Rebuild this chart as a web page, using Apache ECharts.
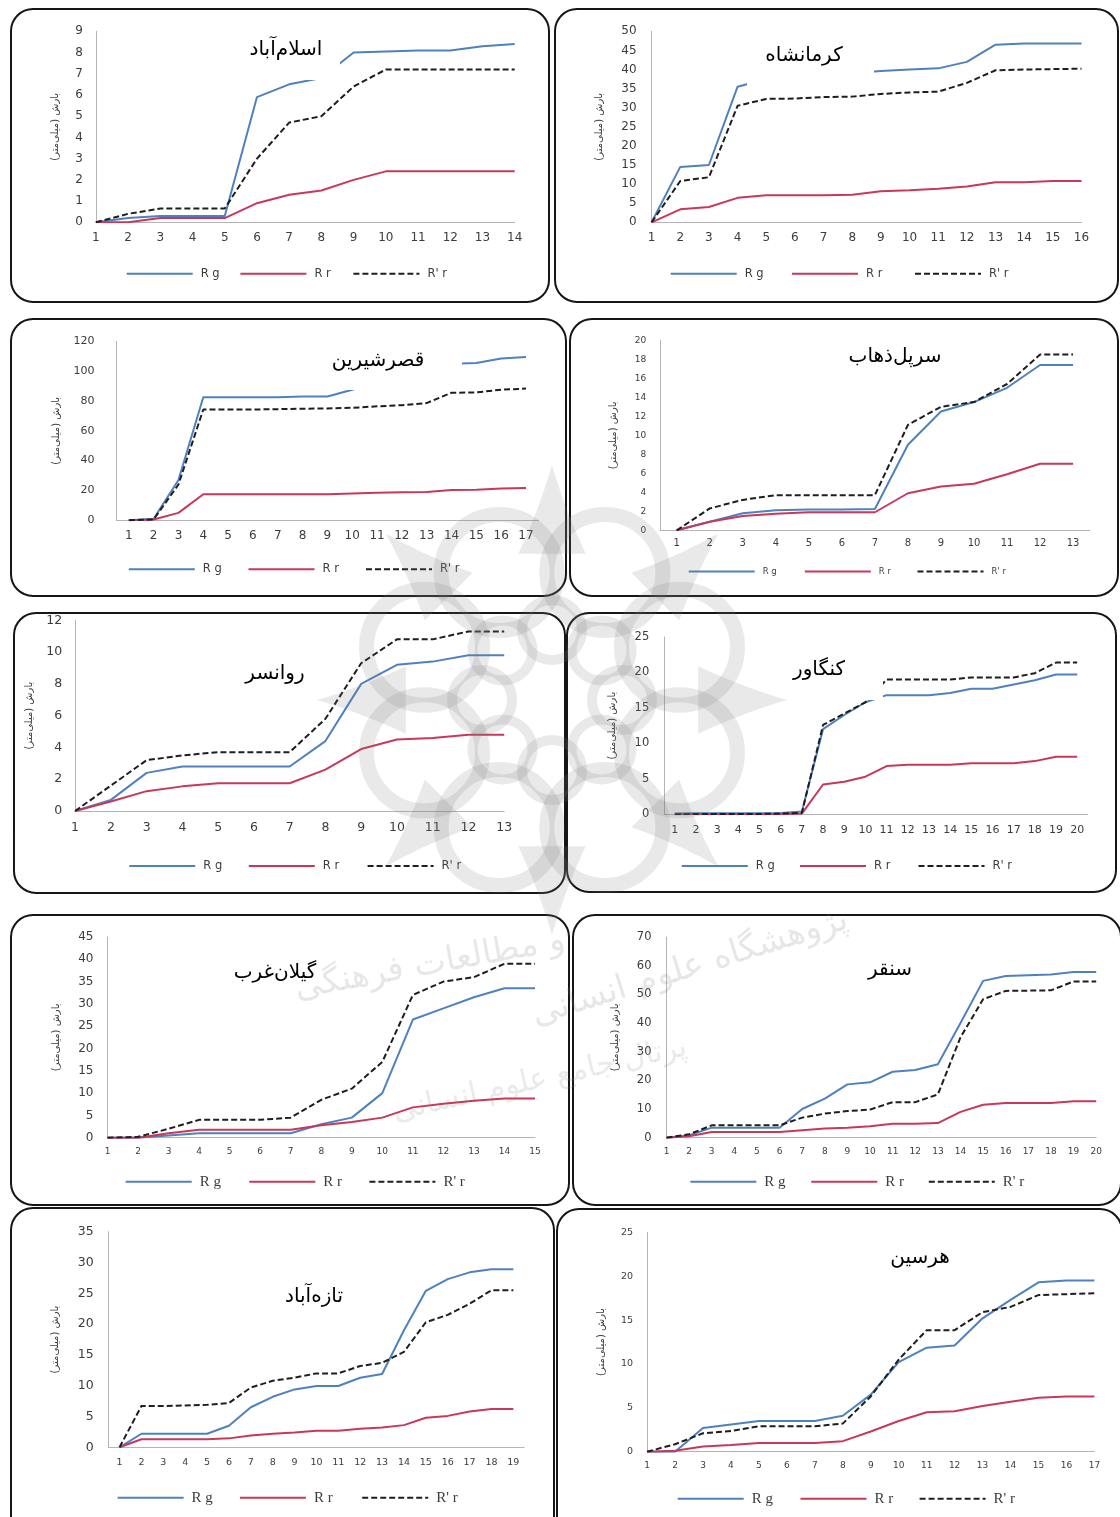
<!DOCTYPE html>
<html>
<head>
<meta charset="utf-8">
<script src="https://cdn.jsdelivr.net/npm/echarts@6/dist/echarts.min.js"></script>
<style>
  html, body { margin: 0; padding: 0; background: #ffffff; }
  #chart { width: 1120px; height: 1517px; }
</style>
</head>
<body>
<div id="chart"></div>
<script>
// Cumulative rainfall (mm) per time step at ten stations:
// Rg = gauge rainfall, Rr = radar rainfall, R'r = corrected radar rainfall.
const seriesNames = ['R g', 'R r', "R' r"];
const yAxisTitle = 'بارش (میلی‌متر)';

const islamabadSteps = ['1','2','3','4','5','6','7','8','9','10','11','12','13','14'];
const islamabadRg = [0, 0.2, 0.3, 0.3, 0.3, 5.9, 6.5, 6.8, 8.0, 8.05, 8.1, 8.1, 8.3, 8.4];
const islamabadRr = [0, 0, 0.2, 0.2, 0.2, 0.9, 1.3, 1.5, 2.0, 2.4, 2.4, 2.4, 2.4, 2.4];
const islamabadRc = [0, 0.4, 0.65, 0.65, 0.65, 3.0, 4.7, 5.0, 6.4, 7.2, 7.2, 7.2, 7.2, 7.2];

const kermanshahSteps = ['1','2','3','4','5','6','7','8','9','10','11','12','13','14','15','16'];
const kermanshahRg = [0, 14.5, 15, 35.5, 37.5, 38, 38.5, 39, 39.6, 40, 40.3, 42, 46.5, 46.8, 46.8, 46.8];
const kermanshahRr = [0, 3.4, 4, 6.4, 7.1, 7.1, 7.1, 7.2, 8.1, 8.4, 8.8, 9.4, 10.5, 10.5, 10.8, 10.8];
const kermanshahRc = [0, 10.8, 11.8, 30.5, 32.3, 32.4, 32.8, 32.9, 33.6, 34, 34.2, 36.5, 39.8, 40, 40.1, 40.2];

const qasrSteps = ['1','2','3','4','5','6','7','8','9','10','11','12','13','14','15','16','17'];
const qasrRg = [0, 1, 27, 82.5, 82.5, 82.5, 82.5, 83, 83, 87.5, 92, 97, 101, 105, 105.5, 108.5, 109.5];
const qasrRr = [0, 0.5, 5, 17.5, 17.5, 17.5, 17.5, 17.5, 17.5, 18, 18.5, 18.8, 19, 20.3, 20.5, 21.3, 21.6];
const qasrRc = [0, 0.5, 24, 74.3, 74.3, 74.3, 74.5, 74.8, 75, 75.4, 76.4, 77.2, 78.6, 85.5, 85.7, 87.6, 88.3];

const sarpolSteps = ['1','2','3','4','5','6','7','8','9','10','11','12','13'];
const sarpolRg = [0, 0.9, 1.8, 2.1, 2.2, 2.2, 2.25, 9, 12.5, 13.5, 15, 17.4, 17.4];
const sarpolRr = [0, 0.9, 1.5, 1.75, 1.9, 1.9, 1.9, 3.9, 4.6, 4.9, 5.9, 7.0, 7.0];
const sarpolRc = [0, 2.3, 3.2, 3.7, 3.7, 3.7, 3.7, 11.1, 13, 13.5, 15.4, 18.5, 18.5];

const ravansarSteps = ['1','2','3','4','5','6','7','8','9','10','11','12','13'];
const ravansarRg = [0, 0.7, 2.4, 2.8, 2.8, 2.8, 2.8, 4.4, 8.0, 9.2, 9.4, 9.8, 9.8];
const ravansarRr = [0, 0.6, 1.25, 1.55, 1.75, 1.75, 1.75, 2.6, 3.9, 4.5, 4.6, 4.8, 4.8];
const ravansarRc = [0, 1.6, 3.2, 3.5, 3.7, 3.7, 3.7, 5.8, 9.3, 10.8, 10.8, 11.3, 11.3];

const kangavarSteps = ['1','2','3','4','5','6','7','8','9','10','11','12','13','14','15','16','17','18','19','20'];
const kangavarRg = [0.1, 0.15, 0.15, 0.15, 0.15, 0.2, 0.4, 12, 14, 15.8, 16.8, 16.8, 16.8, 17.1, 17.7, 17.7, 18.3, 18.9, 19.7, 19.7];
const kangavarRr = [0, 0, 0, 0, 0, 0, 0.1, 4.2, 4.6, 5.3, 6.8, 7.0, 7.0, 7.0, 7.2, 7.2, 7.2, 7.5, 8.1, 8.1];
const kangavarRc = [0, 0.05, 0.05, 0.05, 0.05, 0.1, 0.2, 12.6, 14.2, 15.8, 19, 19, 19, 19, 19.3, 19.3, 19.3, 19.9, 21.4, 21.4];

const gilanSteps = ['1','2','3','4','5','6','7','8','9','10','11','12','13','14','15'];
const gilanRg = [0, 0, 0.5, 1, 1, 1, 1, 3, 4.5, 10, 26.5, 29, 31.5, 33.5, 33.5];
const gilanRr = [0, 0, 1, 1.8, 1.8, 1.8, 1.8, 2.8, 3.5, 4.5, 6.8, 7.6, 8.3, 8.8, 8.8];
const gilanRc = [0, 0.2, 2, 4, 4, 4, 4.5, 8.5, 11, 17, 32, 35, 36, 39, 39];

const sonqorSteps = ['1','2','3','4','5','6','7','8','9','10','11','12','13','14','15','16','17','18','19','20'];
const sonqorRg = [0, 0.8, 3.5, 3.5, 3.5, 3.5, 10, 13.6, 18.6, 19.3, 23, 23.6, 25.6, 40, 54.7, 56.4, 56.7, 56.9, 57.8, 57.8];
const sonqorRr = [0, 0.5, 2, 2, 2, 2, 2.6, 3.2, 3.5, 4, 4.9, 4.9, 5.1, 9, 11.5, 12.1, 12.1, 12.1, 12.7, 12.7];
const sonqorRc = [0, 1.2, 4.3, 4.3, 4.3, 4.3, 7, 8.4, 9.3, 9.8, 12.4, 12.4, 15.1, 35, 48.3, 51.2, 51.3, 51.4, 54.5, 54.5];

const tazeabadSteps = ['1','2','3','4','5','6','7','8','9','10','11','12','13','14','15','16','17','18','19'];
const tazeabadRg = [0, 2.2, 2.2, 2.2, 2.2, 3.5, 6.5, 8.2, 9.4, 9.95, 9.95, 11.3, 11.9, 19, 25.4, 27.3, 28.4, 28.9, 28.9];
const tazeabadRr = [0, 1.3, 1.3, 1.3, 1.3, 1.45, 1.9, 2.2, 2.4, 2.7, 2.7, 3.0, 3.2, 3.6, 4.8, 5.1, 5.8, 6.2, 6.2];
const tazeabadRc = [0, 6.7, 6.7, 6.8, 6.9, 7.2, 9.7, 10.8, 11.3, 12, 12, 13.2, 13.7, 15.5, 20.3, 21.5, 23.3, 25.5, 25.5];

const harsinSteps = ['1','2','3','4','5','6','7','8','9','10','11','12','13','14','15','16','17'];
const harsinRg = [0, 0, 2.7, 3.1, 3.5, 3.5, 3.5, 4.1, 6.5, 10.2, 11.85, 12.1, 15.2, 17.3, 19.3, 19.5, 19.5];
const harsinRr = [0, 0.1, 0.6, 0.76, 1.0, 1.0, 1.0, 1.2, 2.3, 3.5, 4.5, 4.6, 5.2, 5.7, 6.15, 6.3, 6.3];
const harsinRc = [0, 0.85, 2.1, 2.35, 2.9, 2.9, 2.9, 3.2, 6.3, 10.5, 13.85, 13.85, 15.9, 16.5, 17.85, 17.95, 18.05];

// station name, steps, series, y-axis range
const stations = [
  { title: 'اسلام‌آباد', steps: islamabadSteps, data: [islamabadRg, islamabadRr, islamabadRc], yMax: 9, yStep: 1 },
  { title: 'کرمانشاه', steps: kermanshahSteps, data: [kermanshahRg, kermanshahRr, kermanshahRc], yMax: 50, yStep: 5 },
  { title: 'قصرشیرین', steps: qasrSteps, data: [qasrRg, qasrRr, qasrRc], yMax: 120, yStep: 20 },
  { title: 'سرپل‌ذهاب', steps: sarpolSteps, data: [sarpolRg, sarpolRr, sarpolRc], yMax: 20, yStep: 2 },
  { title: 'روانسر', steps: ravansarSteps, data: [ravansarRg, ravansarRr, ravansarRc], yMax: 12, yStep: 2 },
  { title: 'کنگاور', steps: kangavarSteps, data: [kangavarRg, kangavarRr, kangavarRc], yMax: 25, yStep: 5 },
  { title: 'گیلان‌غرب', steps: gilanSteps, data: [gilanRg, gilanRr, gilanRc], yMax: 45, yStep: 5 },
  { title: 'سنقر', steps: sonqorSteps, data: [sonqorRg, sonqorRr, sonqorRc], yMax: 70, yStep: 10 },
  { title: 'تازه‌آباد', steps: tazeabadSteps, data: [tazeabadRg, tazeabadRr, tazeabadRc], yMax: 35, yStep: 5 },
  { title: 'هرسین', steps: harsinSteps, data: [harsinRg, harsinRr, harsinRc], yMax: 25, yStep: 5 }
];

// Page layout of each framed panel (pixels)
const SANS = "'DejaVu Sans', sans-serif";
const SERIF = "'Liberation Serif', 'DejaVu Serif', serif";
const layout = [
  { frame: [11, 9, 538, 293], grid: [95.9, 31.3, 418.8, 191], gap: false, yFont: 12, xFont: 12, xMargin: 10, yMargin: 13, nameGap: 35.7,
    titleAt: [286, 50], mask: [245, 36, 340, 80], legend: [125.7, 239.4, 352.4], legendY: 274.7, legendFont: SANS, legendSize: 11.5 },
  { frame: [555, 9, 563, 293], grid: [651.6, 31.3, 429.9, 191], gap: false, yFont: 12, xFont: 12, xMargin: 10, yMargin: 15, nameGap: 47.6,
    titleAt: [804, 56], mask: [747, 38, 874, 85], legend: [669.7, 791, 914], legendY: 274.7, legendFont: SANS, legendSize: 11.5 },
  { frame: [11, 319, 555, 277], grid: [116.4, 341.3, 422, 179], gap: true, yFont: 11, xFont: 12, xMargin: 10, yMargin: 22, nameGap: 55,
    titleAt: [378, 361], mask: [325, 345, 462, 390], legend: [127.8, 247.5, 365], legendY: 570.3, legendFont: SANS, legendSize: 11.5 },
  { frame: [570, 319, 548, 277], grid: [660.2, 340.3, 429.4, 190], gap: true, yFont: 9, xFont: 10, xMargin: 8, yMargin: 14, nameGap: 41.4,
    titleAt: [895, 357], mask: null, legend: [687.7, 803.8, 916.5], legendY: 573, legendFont: SANS, legendSize: 8.5 },
  { frame: [14, 613, 551, 280], grid: [75.1, 620.3, 429.1, 190.7], gap: false, yFont: 12.5, xFont: 12.5, xMargin: 10, yMargin: 13, nameGap: 40.4,
    titleAt: [275, 674], mask: null, legend: [128.3, 247.8, 366.6], legendY: 867, legendFont: SANS, legendSize: 11.5 },
  { frame: [567, 613, 549, 279], grid: [664.2, 637, 423.6, 177.3], gap: true, yFont: 11.5, xFont: 11, xMargin: 10, yMargin: 15, nameGap: 47.2,
    titleAt: [819, 670], mask: [785, 652, 883, 700], legend: [680.8, 799, 917.5], legendY: 867, legendFont: SANS, legendSize: 11.5 },
  { frame: [11, 915, 558, 290], grid: [107.5, 937, 427.5, 200.7], gap: false, yFont: 12, xFont: 9, xMargin: 9, yMargin: 14, nameGap: 45.9,
    titleAt: [275, 973], mask: null, legend: [124.7, 248.3, 368.4], legendY: 1181.3, legendFont: SERIF, legendSize: 15 },
  { frame: [573, 915, 548, 290], grid: [666.5, 937, 429.7, 200.7], gap: false, yFont: 11.5, xFont: 9, xMargin: 9, yMargin: 15, nameGap: 45.9,
    titleAt: [890, 970], mask: null, legend: [689.3, 810.3, 927.8], legendY: 1181.3, legendFont: SERIF, legendSize: 15 },
  { frame: [11, 1208, 543, 330], grid: [108.6, 1231.7, 415.7, 215.6], gap: true, yFont: 12.5, xFont: 9.5, xMargin: 10, yMargin: 15, nameGap: 48.2,
    titleAt: [314, 1297], mask: null, legend: [116.6, 238.9, 361.2], legendY: 1497.3, legendFont: SERIF, legendSize: 15 },
  { frame: [557, 1209, 565, 330], grid: [647.1, 1232.3, 447.3, 219.4], gap: false, yFont: 9.5, xFont: 9, xMargin: 9.5, yMargin: 14, nameGap: 41.1,
    titleAt: [920, 1258], mask: null, legend: [676.7, 799.5, 918.6], legendY: 1498.3, legendFont: SERIF, legendSize: 15 }
];

const lineColors = ['#4f81bd', '#c8385a', '#1e1e1e'];
const lineDash = ['solid', 'solid', [6, 3]];
const axisGray = '#b4b4b4';
const labelGray = '#3c3c3c';

const grids = [], xAxes = [], yAxes = [], series = [], legends = [], graphics = [];

stations.forEach((st, i) => {
  const L = layout[i];
  grids.push({ left: L.grid[0], top: L.grid[1], width: L.grid[2], height: L.grid[3], containLabel: false });
  xAxes.push({
    type: 'category', gridIndex: i, data: st.steps, boundaryGap: L.gap,
    axisLine: { show: true, lineStyle: { color: axisGray, width: 1 } },
    axisTick: { show: false },
    axisLabel: { interval: 0, fontSize: L.xFont, color: labelGray, margin: L.xMargin, fontFamily: SANS },
    splitLine: { show: false }
  });
  yAxes.push({
    type: 'value', gridIndex: i, min: 0, max: st.yMax, interval: st.yStep,
    axisLine: { show: true, lineStyle: { color: axisGray, width: 1 } },
    axisTick: { show: false },
    splitLine: { show: false },
    axisLabel: { fontSize: L.yFont, color: labelGray, margin: L.yMargin, fontFamily: SANS },
    name: yAxisTitle, nameLocation: 'middle', nameGap: L.nameGap,
    nameTextStyle: { fontSize: 10, color: labelGray, fontFamily: SANS }
  });
  st.data.forEach((vals, k) => {
    series.push({
      type: 'line', name: seriesNames[k], xAxisIndex: i, yAxisIndex: i,
      data: vals, symbol: 'none', smooth: false, color: lineColors[k],
      lineStyle: { color: lineColors[k], width: 2, type: lineDash[k] },
      z: 2, animation: false
    });
    legends.push({
      data: [seriesNames[k]], left: L.legend[k], top: L.legendY - 7,
      itemWidth: 66, itemHeight: 14, itemGap: 0, selectedMode: false, padding: 0,
      itemStyle: { opacity: 0 },
      textStyle: { fontFamily: L.legendFont, fontSize: L.legendSize, color: labelGray, padding: [0, 0, 0, 3] }
    });
  });
  // frame
  graphics.push({
    type: 'rect', silent: true, z: 1,
    shape: { x: L.frame[0], y: L.frame[1], width: L.frame[2], height: L.frame[3], r: 22 },
    style: { fill: 'none', stroke: '#161616', lineWidth: 2 }
  });
  // white box behind the station name
  if (L.mask) {
    graphics.push({
      type: 'rect', silent: true, z: 50,
      shape: { x: L.mask[0], y: L.mask[1], width: L.mask[2] - L.mask[0], height: L.mask[3] - L.mask[1] },
      style: { fill: '#ffffff' }
    });
  }
  graphics.push({
    type: 'text', silent: true, z: 51, x: L.titleAt[0], y: L.titleAt[1],
    style: { text: st.title, font: "20px 'DejaVu Sans'", fill: '#000000', align: 'center', verticalAlign: 'middle' }
  });
});

// Faint rosette emblem laid over the middle of the page
const emblem = { cx: 552, cy: 700, tipR: 235, baseR: 150, ctrlR: 190 };
const emblemGray = '#7c7c7c';
const emblemAlpha = 0.17;
function polar(r, deg) {
  const a = (deg - 90) * Math.PI / 180;
  return [emblem.cx + r * Math.cos(a), emblem.cy + r * Math.sin(a)];
}
function quadPoints(p0, c, p1, n) {
  const pts = [];
  for (let s = 0; s <= n; s++) {
    const t = s / n, u = 1 - t;
    pts.push([u * u * p0[0] + 2 * u * t * c[0] + t * t * p1[0], u * u * p0[1] + 2 * u * t * c[1] + t * t * p1[1]]);
  }
  return pts;
}
for (let k = 0; k < 8; k++) {
  const a = k * 45;
  const b1 = polar(emblem.baseR, a - 13), c1 = polar(emblem.ctrlR, a - 4);
  const tip = polar(emblem.tipR, a);
  const c2 = polar(emblem.ctrlR, a + 4), b2 = polar(emblem.baseR, a + 13);
  const pts = quadPoints(b1, c1, tip, 12).concat(quadPoints(tip, c2, b2, 12).slice(1));
  graphics.push({
    type: 'polygon', silent: true, z: 90,
    shape: { points: pts },
    style: { fill: emblemGray, opacity: emblemAlpha }
  });
  const loop = polar(138, a + 22.5);
  graphics.push({
    type: 'circle', silent: true, z: 90,
    shape: { cx: loop[0], cy: loop[1], r: 58 },
    style: { fill: 'none', stroke: emblemGray, lineWidth: 15, opacity: emblemAlpha }
  });
  const inner = polar(70, a);
  graphics.push({
    type: 'circle', silent: true, z: 90,
    shape: { cx: inner[0], cy: inner[1], r: 30 },
    style: { fill: 'none', stroke: emblemGray, lineWidth: 10, opacity: emblemAlpha }
  });
}
graphics.push({
  type: 'text', silent: true, z: 90, x: 430, y: 965, rotation: 0.18,
  style: { text: 'و مطالعات فرهنگی', font: "34px 'DejaVu Sans'", fill: emblemGray, opacity: 0.18, align: 'center', verticalAlign: 'middle' }
});
graphics.push({
  type: 'text', silent: true, z: 90, x: 690, y: 968, rotation: 0.3,
  style: { text: 'پژوهشگاه علوم انسانی', font: "34px 'DejaVu Sans'", fill: emblemGray, opacity: 0.18, align: 'center', verticalAlign: 'middle' }
});
graphics.push({
  type: 'text', silent: true, z: 90, x: 540, y: 1080, rotation: 0.22,
  style: { text: 'پرتال جامع علوم انسانی', font: "30px 'DejaVu Sans'", fill: emblemGray, opacity: 0.16, align: 'center', verticalAlign: 'middle' }
});

const chart = echarts.init(document.getElementById('chart'), null, { renderer: 'canvas' });
chart.setOption({
  backgroundColor: '#ffffff',
  animation: false,
  grid: grids,
  xAxis: xAxes,
  yAxis: yAxes,
  legend: legends,
  series: series,
  graphic: { elements: graphics }
});
</script>
</body>
</html>
